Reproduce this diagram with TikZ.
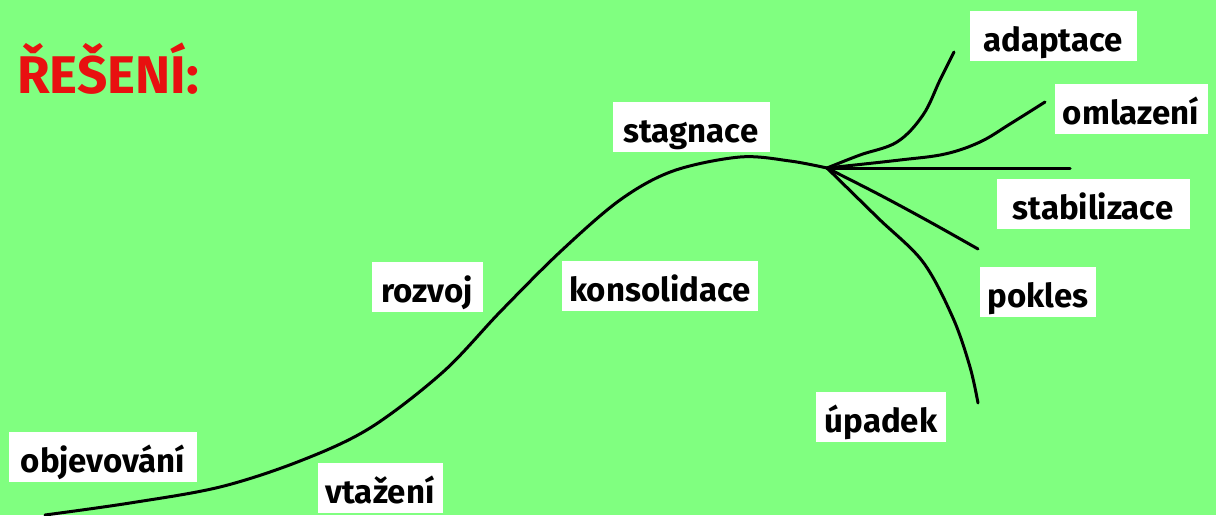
\documentclass[tikz,border=0pt]{standalone}
\usepackage{fontspec}
\setmainfont{Fira Sans}
\definecolor{bg}{RGB}{128,255,128}
\definecolor{titlered}{RGB}{232,16,16}
\tikzset{
  lbl/.style={fill=white, draw=none, font=\fontsize{33}{39}\selectfont\bfseries,
    text height=33pt, text depth=3pt, inner ysep=7pt, inner xsep=6pt, align=center},
  curve/.style={line width=3pt, line cap=round, line join=round, black},
}
\begin{document}
\begin{tikzpicture}[x=1pt,y=-1pt]
\useasboundingbox (0,0) rectangle (1216,515);
\fill[bg] (0,0) rectangle (1216,515);
\node[anchor=base west, text=titlered, font=\fontsize{53}{60}\selectfont\bfseries, inner sep=0pt] (title) at (17,93) {ŘEŠENÍ:};

% labels
\node[lbl, minimum width=167pt] (adaptace) at (1053,36) {adaptace};
\node[lbl, minimum width=153pt] (omlazeni) at (1131,109) {omlazení};
\node[lbl, minimum width=157pt] (stagnace) at (691,127) {stagnace};
\node[lbl, minimum width=193pt] (stabilizace) at (1093,204) {stabilizace};
\node[lbl, minimum width=111pt] (rozvoj) at (427,287) {rozvoj};
\node[lbl, minimum width=196pt] (konsolidace) at (660,286) {konsolidace};
\node[lbl, minimum width=116pt] (pokles) at (1038,292) {pokles};
\node[lbl, minimum width=130pt] (upadek) at (881,417) {úpadek};
\node[lbl, minimum width=188pt] (objevovani) at (103,457) {objevování};
\node[lbl, minimum width=125pt] (vtazeni) at (380,488) {vtažení};

% curves
\coordinate (start) at (45,515);
\coordinate (fork) at (827,168);
\draw[curve] plot[smooth, tension=0.55] coordinates {(45,515) (130,503) (220,487) (300,461) (370,428) (443,372) (500,312) (560,252) (620,200) (673,171) (740,157) (790,161) (827,168)};
\draw[curve] plot[smooth, tension=0.6] coordinates {(827,168) (860,155) (897,142) (923,115) (940,80) (954,52)};
\draw[curve] plot[smooth, tension=0.6] coordinates {(827,168) (900,160) (945,154) (980,142) (1010,124) (1045,102)};
\draw[curve] (fork) -- (1070,168);
\draw[curve] plot[smooth, tension=0.6] coordinates {(827,168) (880,195) (930,222) (978,249)};
\draw[curve] plot[smooth, tension=0.55] coordinates {(827,168) (878,218) (923,262) (953,318) (970,367) (978,403)};
\end{tikzpicture}
\end{document}
